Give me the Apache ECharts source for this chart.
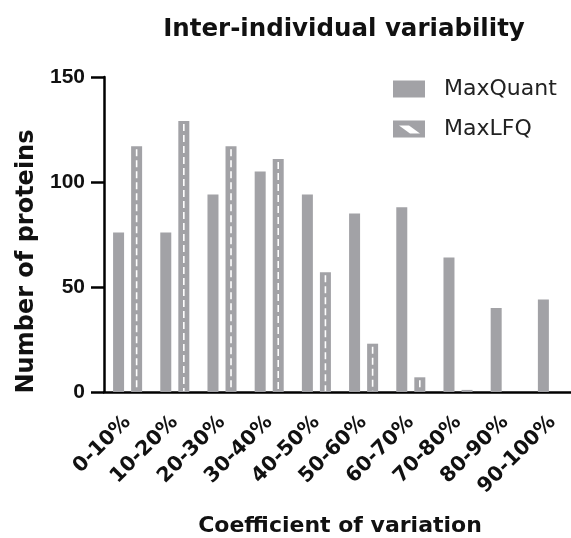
<!DOCTYPE html>
<html>
<head>
<meta charset="utf-8">
<script src="https://cdn.jsdelivr.net/npm/echarts@6/dist/echarts.min.js"></script>
<style>html,body{margin:0;padding:0;background:#fff}#c{width:571px;height:538px}</style>
</head>
<body>
<div id="c"></div>
<script>
const categories = ['0-10%','10-20%','20-30%','30-40%','40-50%','50-60%','60-70%','70-80%','80-90%','90-100%'];
const maxQuant = [76, 76, 94, 105, 94, 85, 88, 64, 40, 44];
const maxLFQ = [117, 129, 117, 111, 57, 23, 7, 1, 0, 0];
const yTicks = [0, 50, 100, 150];

const GRAY = '#a2a2a6';
const BAR_W = 11;
const GAP = 0.64;
const OFFSET = BAR_W * (1 + GAP) / 2;

const chart = echarts.init(document.getElementById('c'), null, {renderer: 'canvas'});
chart.setOption({
  animation: false,
  backgroundColor: '#fff',
  title: {
    text: 'Inter-individual variability',
    left: 339, top: 12, textAlign: 'center',
    textStyle: {fontFamily: 'DejaVu Sans', fontWeight: 'bold', fontSize: 24.5, color: '#111'}
  },
  legend: {
    left: 393, top: 78, orient: 'vertical', padding: 0,
    itemWidth: 32, itemHeight: 17, itemGap: 18,
    textStyle: {fontFamily: 'DejaVu Sans', fontSize: 22, color: '#222', padding: [0,0,0,14]},
    data: [
      {name: 'MaxQuant', icon: 'rect'},
      {name: 'MaxLFQ', icon: 'path://M0,0 L32,0 L32,17 L0,17 Z M6,5 L17,13 L27,13 L16,5 Z'}
    ]
  },
  grid: {left: 104, right: -5, top: 77, bottom: 146, containLabel: false, outerBoundsMode: 'none'},
  xAxis: {
    type: 'category', data: categories,
    name: 'Coefficient of variation', nameLocation: 'middle', nameGap: 123,
    nameTextStyle: {fontFamily: 'DejaVu Sans', fontWeight: 'bold', fontSize: 22, color: '#111'},
    axisLine: {lineStyle: {color: '#000', width: 2.5}},
    axisTick: {alignWithLabel: true, interval: 0, length: 11, lineStyle: {color: '#000', width: 2.5}},
    axisLabel: {interval: 0, rotate: 45, margin: 27, fontFamily: 'DejaVu Sans', fontWeight: 'bold', fontSize: 20.5, color: '#111'}
  },
  yAxis: {
    type: 'value', min: 0, max: 150, interval: 50,
    name: 'Number of proteins', nameLocation: 'middle', nameGap: 60,
    nameTextStyle: {fontFamily: 'DejaVu Sans', fontWeight: 'bold', fontSize: 24, color: '#111', padding: [0, 54, 0, 0]},
    splitLine: {show: false},
    axisLine: {show: true, lineStyle: {color: '#000', width: 2.5}},
    axisTick: {show: true, length: 13, lineStyle: {color: '#000', width: 2.5}},
    axisLabel: {margin: 19, fontFamily: 'Liberation Sans', fontWeight: 'bold', fontSize: 21, color: '#111',
      formatter: v => yTicks.includes(v) ? String(v) : ''}
  },
  series: [
    {name: 'MaxQuant', type: 'bar', data: maxQuant, barWidth: BAR_W, barGap: (GAP*100) + '%',
     itemStyle: {color: GRAY}},
    {name: 'MaxLFQ', type: 'bar', data: maxLFQ, barWidth: BAR_W,
     itemStyle: {color: GRAY}},
    {name: 'hatch', type: 'custom', data: maxLFQ.map((v, i) => [i, v]), z: 5, silent: true,
     renderItem: function (params, api) {
       const v = api.value(1);
       if (v <= 2) return null;
       const top = api.coord([api.value(0), v]);
       const base = api.coord([api.value(0), 0]);
       const x = top[0] + OFFSET;
       return {type: 'line', shape: {x1: x, y1: top[1] + 3, x2: x, y2: base[1] - 1},
               style: {stroke: '#fff', lineWidth: 1.6, lineDash: [7, 4]}};
     }}
  ]
});
</script>
</body>
</html>
